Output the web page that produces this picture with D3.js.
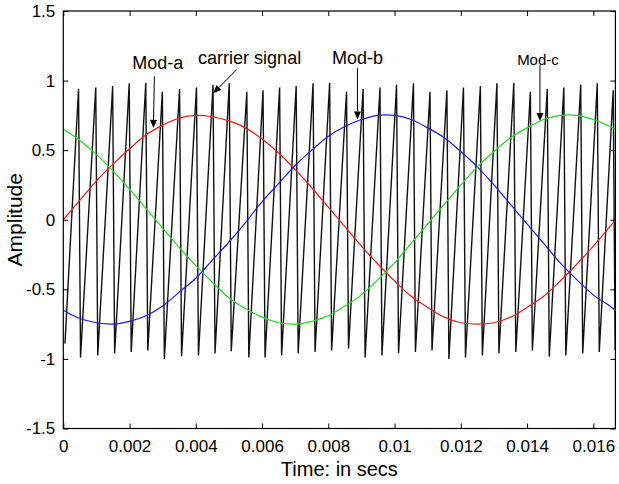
<!DOCTYPE html>
<html>
<head>
<meta charset="utf-8">
<script src="https://cdn.jsdelivr.net/npm/d3@7/dist/d3.min.js"></script>
<style>
  html, body { margin: 0; padding: 0; background: #fff; }
  svg { display: block; }
  text { font-family: "Liberation Sans", Arial, Helvetica, sans-serif; fill: #000; }
</style>
</head>
<body>
<svg id="chart" width="619" height="484"></svg>
<script>
// ---------- data ----------
const xTickValues = [0, 0.002, 0.004, 0.006, 0.008, 0.01, 0.012, 0.014, 0.016];
const xTickLabels = ["0", "0.002", "0.004", "0.006", "0.008", "0.01", "0.012", "0.014", "0.016"];
const yTickValues = [-1.5, -1, -0.5, 0, 0.5, 1, 1.5];
const yTickLabels = ["-1.5", "-1", "-0.5", "0", "0.5", "1", "1.5"];

// sample times for the three modulating signals (s)
const sineTimes = [0, 0.0005, 0.001, 0.0015, 0.002, 0.0025, 0.003, 0.0035, 0.004, 0.0045,
  0.005, 0.0055, 0.006, 0.0065, 0.007, 0.0075, 0.008, 0.0085, 0.009, 0.0095,
  0.01, 0.0105, 0.011, 0.0115, 0.012, 0.0125, 0.013, 0.0135, 0.014, 0.0145,
  0.015, 0.0155, 0.016, 0.0165, 0.016667];
const modA = [0, 0.14, 0.28, 0.40, 0.51, 0.61, 0.68, 0.73, 0.75, 0.74,
  0.71, 0.66, 0.58, 0.48, 0.36, 0.23, 0.09, -0.05, -0.19, -0.32,
  -0.44, -0.55, -0.63, -0.70, -0.74, -0.75, -0.74, -0.70, -0.63, -0.55,
  -0.44, -0.32, -0.19, -0.05, 0];
const modB = [-0.65, -0.71, -0.74, -0.75, -0.73, -0.69, -0.62, -0.52, -0.42, -0.29,
  -0.16, -0.02, 0.13, 0.26, 0.39, 0.50, 0.60, 0.67, 0.72, 0.75,
  0.75, 0.72, 0.66, 0.59, 0.49, 0.38, 0.25, 0.11, -0.03, -0.17,
  -0.31, -0.43, -0.54, -0.62, -0.65];
const modC = [0.65, 0.57, 0.47, 0.35, 0.22, 0.08, -0.06, -0.20, -0.33, -0.45,
  -0.56, -0.64, -0.70, -0.74, -0.75, -0.73, -0.69, -0.62, -0.54, -0.43,
  -0.31, -0.17, -0.03, 0.11, 0.25, 0.38, 0.49, 0.59, 0.66, 0.72,
  0.75, 0.75, 0.72, 0.67, 0.65];

// carrier (sawtooth): trough vertices and peak vertices
const carrierTroughTimes = [0.00005, 0.00052, 0.00104, 0.00155, 0.00205, 0.00255, 0.00305, 0.00357,
  0.00408, 0.00458, 0.00507, 0.00560, 0.00609, 0.00659, 0.00709, 0.00760, 0.00810, 0.00861,
  0.00911, 0.00962, 0.01012, 0.01063, 0.01113, 0.01164, 0.01214, 0.01265, 0.01315, 0.01366,
  0.01416, 0.01467, 0.01517, 0.01568, 0.01618, 0.01666];
const carrierTroughs = [-0.89, -0.99, -0.975, -0.96, -0.95, -0.94, -1.0, -0.98,
  -0.975, -0.96, -0.945, -0.99, -0.99, -0.975, -0.96, -0.95, -0.94, -0.925,
  -0.99, -0.975, -0.96, -0.95, -0.94, -1.0, -0.99, -0.975, -0.96, -0.95,
  -0.94, -0.985, -0.975, -0.96, -0.95, -0.94];
const carrierPeakTimes = [0.00046, 0.00098, 0.00149, 0.00199, 0.00249, 0.00299, 0.00351, 0.00402,
  0.00452, 0.00501, 0.00554, 0.00603, 0.00653, 0.00703, 0.00754, 0.00804, 0.00855, 0.00905,
  0.00956, 0.01006, 0.01057, 0.01107, 0.01158, 0.01208, 0.01259, 0.01309, 0.01360, 0.01410,
  0.01461, 0.01511, 0.01562, 0.01612, 0.01660];
const carrierPeaks = [0.94, 0.95, 0.96, 0.98, 0.985, 0.92, 0.94, 0.95,
  0.97, 0.98, 0.92, 0.93, 0.95, 0.96, 0.98, 0.985, 0.92, 0.94,
  0.95, 0.97, 0.98, 0.92, 0.93, 0.95, 0.96, 0.98, 0.985, 0.92,
  0.94, 0.95, 0.97, 0.98, 0.93];

// annotations: label, arrow tail/tip in data space
const annotations = [
  { text: "Mod-a", tx: 0.00208, ty: 1.08, size: 18, color: "#000", x1: 0.00275, y1: 1.03, x2: 0.00272, y2: 0.66 },
  { text: "carrier signal", tx: 0.00407, ty: 1.12, size: 18, color: "#000", x1: 0.00524, y1: 1.08, x2: 0.00453, y2: 0.91 },
  { text: "Mod-b", tx: 0.00811, ty: 1.12, size: 18, color: "#000", x1: 0.00888, y1: 1.09, x2: 0.00888, y2: 0.72 },
  { text: "Mod-c", tx: 0.01370, ty: 1.11, size: 15, color: "#444", x1: 0.01439, y1: 1.11, x2: 0.01439, y2: 0.71 }
];

// ---------- layout ----------
const svg = d3.select("#chart");
const L = 63.3, R = 615.4, T = 11, B = 428.5;
const x = d3.scaleLinear().domain([0, 1 / 60]).range([L, R]);
const y = d3.scaleLinear().domain([-1.5, 1.5]).range([B, T]);

const plot = svg.append("g");
plot.append("defs").append("clipPath").attr("id", "clip")
  .append("rect").attr("x", L).attr("y", T).attr("width", R - L).attr("height", B - T);

// carrier
const carrierPts = [];
carrierTroughTimes.forEach((t, i) => {
  carrierPts.push([t, carrierTroughs[i]]);
  if (i < carrierPeakTimes.length) carrierPts.push([carrierPeakTimes[i], carrierPeaks[i]]);
});
const line = d3.line().x(d => x(d[0])).y(d => y(d[1]));
plot.append("path").datum(carrierPts)
  .attr("clip-path", "url(#clip)")
  .attr("d", line).attr("fill", "none")
  .attr("stroke", "#111").attr("stroke-width", 1.4).attr("stroke-linejoin", "miter");

// modulating signals
const smooth = d3.line().x(d => x(d[0])).y(d => y(d[1])).curve(d3.curveCatmullRom);
[[modA, "#ee1c1c"], [modB, "#1a1ae0"], [modC, "#22dd22"]].forEach(([vals, col]) => {
  plot.append("path").datum(sineTimes.map((t, i) => [t, vals[i]]))
    .attr("clip-path", "url(#clip)")
    .attr("d", smooth).attr("fill", "none")
    .attr("stroke", col).attr("stroke-width", 1.2);
});

// axes (MATLAB box with inward ticks)
const tickLen = 5;
const fmtX = d => xTickLabels[xTickValues.indexOf(d)];
const fmtY = d => yTickLabels[yTickValues.indexOf(d)];

const gB = svg.append("g").attr("transform", `translate(0,${B})`)
  .call(d3.axisBottom(x).tickValues(xTickValues).tickFormat(fmtX).tickSizeInner(-tickLen).tickSizeOuter(0).tickPadding(9));
const gT = svg.append("g").attr("transform", `translate(0,${T})`)
  .call(d3.axisTop(x).tickValues(xTickValues).tickFormat("").tickSizeInner(-tickLen).tickSizeOuter(0));
const gL = svg.append("g").attr("transform", `translate(${L},0)`)
  .call(d3.axisLeft(y).tickValues(yTickValues).tickFormat(fmtY).tickSizeInner(-tickLen).tickSizeOuter(0).tickPadding(8));
const gR = svg.append("g").attr("transform", `translate(${R},0)`)
  .call(d3.axisRight(y).tickValues(yTickValues).tickFormat("").tickSizeInner(-tickLen).tickSizeOuter(0));
[gB, gT, gL, gR].forEach(g => {
  g.select(".domain").remove();
  g.selectAll("line").attr("stroke", "#000").attr("stroke-width", 1);
  g.selectAll("text").style("font-family", "'Liberation Sans', Arial, sans-serif").style("font-size", "17px").attr("fill", "#000");
});
gB.selectAll("text").attr("dy", "0.85em");

svg.append("rect").attr("x", L).attr("y", T).attr("width", R - L).attr("height", B - T)
  .attr("fill", "none").attr("stroke", "#000").attr("stroke-width", 1.2);

// axis titles
svg.append("text").attr("x", (L + R) / 2).attr("y", 476).attr("text-anchor", "middle")
  .style("font-size", "20px").text("Time: in secs");
svg.append("text").attr("transform", `translate(22,${(T + B) / 2}) rotate(-90)`)
  .attr("text-anchor", "middle").style("font-size", "21px").text("Amplitude");

// annotations
const ann = svg.append("g");
annotations.forEach(a => {
  ann.append("text").attr("x", x(a.tx)).attr("y", y(a.ty))
    .style("font-size", a.size + "px").attr("fill", a.color).text(a.text);
  const X1 = x(a.x1), Y1 = y(a.y1), X2 = x(a.x2), Y2 = y(a.y2);
  const ang = Math.atan2(Y2 - Y1, X2 - X1);
  const hl = 8, hw = 3.5;
  const bx = X2 - hl * Math.cos(ang), by = Y2 - hl * Math.sin(ang);
  ann.append("line").attr("x1", X1).attr("y1", Y1).attr("x2", bx).attr("y2", by)
    .attr("stroke", "#000").attr("stroke-width", 1);
  const px = -Math.sin(ang), py = Math.cos(ang);
  ann.append("polygon")
    .attr("points", `${X2},${Y2} ${bx + hw * px},${by + hw * py} ${bx - hw * px},${by - hw * py}`)
    .attr("fill", "#000");
});
</script>
</body>
</html>
